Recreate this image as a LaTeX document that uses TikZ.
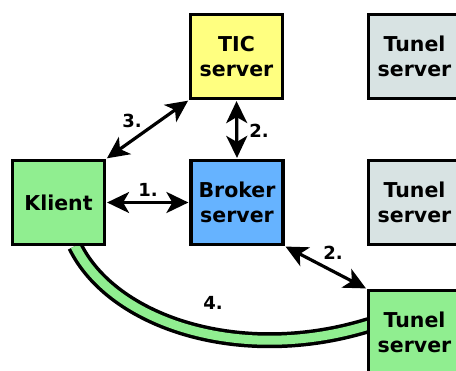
\documentclass[tikz,border=0pt]{standalone}
\usepackage{fontspec}
\setmainfont{DejaVu Sans}
\usetikzlibrary{arrows.meta}
\definecolor{klientgreen}{HTML}{90EE90}
\definecolor{ticyellow}{HTML}{FFFF80}
\definecolor{brokerblue}{HTML}{66B3FF}
\definecolor{tunelgray}{HTML}{D8E3E3}
\tikzset{
  box/.style={draw=black, line width=3.2pt, minimum width=92pt, minimum height=84pt,
    align=center, inner sep=0pt, font=\fontsize{20.5}{25}\selectfont\bfseries},
  tip/.tip={Stealth[length=22pt,width=21pt,inset=6pt]},
  link/.style={line width=3.2pt, tip-tip, shorten <=1pt, shorten >=1pt},
  lbl/.style={font=\fontsize{18}{20}\selectfont\bfseries, inner sep=0pt}
}
\begin{document}
\begin{tikzpicture}[x=1pt,y=-1pt]
\useasboundingbox (0,0) rectangle (456,371);
\clip (0,0) rectangle (456,371);
% positions
\coordinate (tubeA) at (75,246);
\coordinate (tubeB) at (369,325);
% tunnel tube
\draw[line width=16pt, black] (tubeA) .. controls (112,322) and (240,365) .. (tubeB);
\draw[line width=9pt, klientgreen] (tubeA) .. controls (112,322) and (240,365) .. (tubeB);
% boxes
\node[box, fill=klientgreen] (klient) at (58.5,202.5) {Klient};
\node[box, fill=brokerblue] (broker) at (237,202.5) {Broker\\server};
\node[box, fill=ticyellow] (tic) at (236.5,56.5) {TIC\\server};
\node[box, fill=tunelgray] (tunel1) at (414.5,56.5) {Tunel\\server};
\node[box, fill=tunelgray] (tunel2) at (414.5,202.5) {Tunel\\server};
\node[box, fill=klientgreen] (tunel3) at (414.5,332.5) {Tunel\\server};
% connectors
\draw[link] (klient.east) -- (broker.west);
\draw[link] (tic.south) -- (broker.north);
\draw[link] (tic.south west) -- (klient.north east);
\draw[link] (broker.south east) -- (tunel3.north west);
% labels
\node[lbl] (l1) at (148,190) {1.};
\node[lbl] (l2a) at (259,131) {2.};
\node[lbl] (l3) at (132,121) {3.};
\node[lbl] (l2b) at (333,253) {2.};
\node[lbl] (l4) at (213,303) {4.};
\end{tikzpicture}
\end{document}
